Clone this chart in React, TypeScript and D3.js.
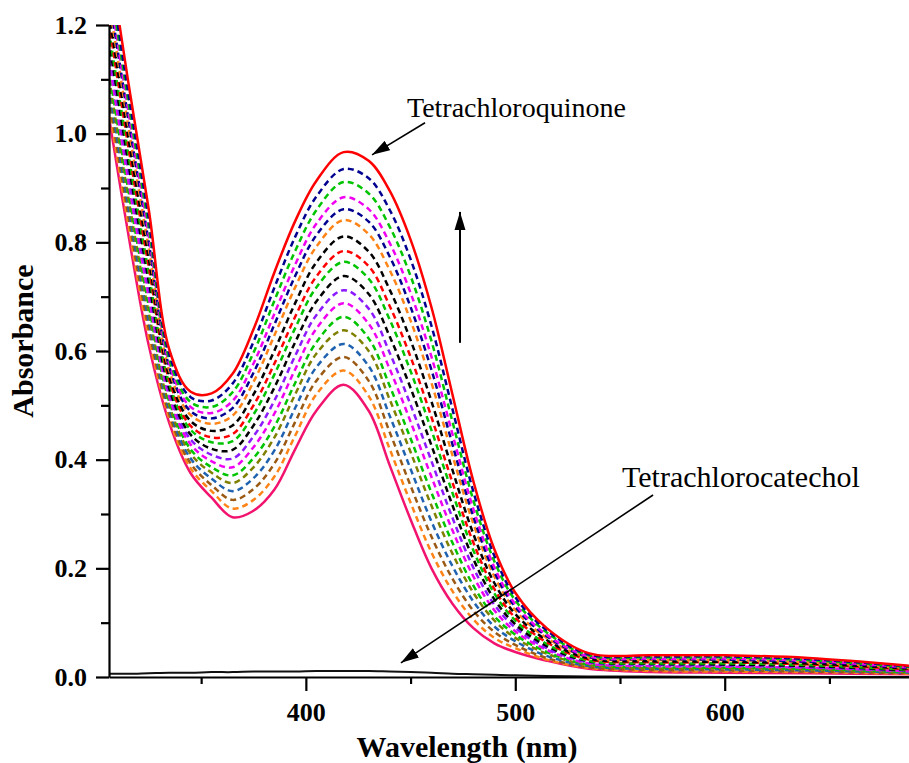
import React, { useEffect, useRef } from "react";
import * as d3 from "d3";

// wavelength grid (nm) shared by every spectrum
const wavelengths = [306, 315, 325, 335, 345, 355, 365, 375, 385, 395, 405, 418, 430, 440, 450, 460, 470, 480, 490, 500, 515, 535, 565, 600, 640, 690];

// first scan (pink, solid) and last scan (red, solid)
const firstScan = [1.03, 0.82, 0.61, 0.465, 0.375, 0.33, 0.294, 0.306, 0.345, 0.42, 0.49, 0.538, 0.49, 0.39, 0.29, 0.2, 0.135, 0.09, 0.062, 0.046, 0.03, 0.015, 0.009, 0.008, 0.007, 0.005];
const lastScan = [1.33, 1.1, 0.86, 0.6, 0.525, 0.522, 0.558, 0.64, 0.745, 0.84, 0.913, 0.966, 0.95, 0.895, 0.805, 0.68, 0.52, 0.36, 0.235, 0.155, 0.09, 0.044, 0.04, 0.04, 0.035, 0.02];

// tetrachlorocatechol alone (black, near zero)
const catecholScan = [0.006, 0.006, 0.007, 0.008, 0.008, 0.009, 0.009, 0.01, 0.01, 0.01, 0.011, 0.011, 0.011, 0.01, 0.009, 0.008, 0.006, 0.005, 0.004, 0.003, 0.002, 0.001, 0.001, 0, 0, 0];

// dashed intermediate scans, bottom to top
const dashedScans = [
  [1.048, 0.837, 0.625, 0.473, 0.384, 0.342, 0.31, 0.326, 0.369, 0.445, 0.52, 0.564, 0.517, 0.42, 0.321, 0.229, 0.158, 0.106, 0.072, 0.053, 0.032, 0.017, 0.011, 0.01, 0.009, 0.006],
  [1.066, 0.854, 0.64, 0.481, 0.393, 0.353, 0.326, 0.346, 0.393, 0.47, 0.545, 0.589, 0.545, 0.451, 0.352, 0.258, 0.181, 0.122, 0.083, 0.059, 0.035, 0.018, 0.013, 0.012, 0.01, 0.007],
  [1.084, 0.87, 0.655, 0.489, 0.402, 0.365, 0.342, 0.366, 0.417, 0.496, 0.57, 0.613, 0.572, 0.481, 0.383, 0.286, 0.204, 0.139, 0.093, 0.066, 0.039, 0.02, 0.015, 0.014, 0.012, 0.008],
  [1.102, 0.887, 0.67, 0.497, 0.411, 0.376, 0.357, 0.386, 0.441, 0.521, 0.595, 0.638, 0.6, 0.511, 0.414, 0.315, 0.227, 0.155, 0.104, 0.072, 0.043, 0.022, 0.016, 0.016, 0.014, 0.009],
  [1.117, 0.901, 0.683, 0.504, 0.419, 0.386, 0.371, 0.403, 0.461, 0.542, 0.616, 0.663, 0.623, 0.536, 0.439, 0.339, 0.247, 0.168, 0.112, 0.078, 0.046, 0.023, 0.018, 0.017, 0.015, 0.009],
  [1.135, 0.918, 0.698, 0.512, 0.428, 0.397, 0.386, 0.423, 0.485, 0.567, 0.641, 0.688, 0.65, 0.567, 0.47, 0.368, 0.27, 0.185, 0.123, 0.084, 0.05, 0.025, 0.02, 0.019, 0.017, 0.01],
  [1.153, 0.935, 0.713, 0.52, 0.437, 0.409, 0.402, 0.443, 0.509, 0.592, 0.666, 0.712, 0.678, 0.597, 0.501, 0.397, 0.293, 0.201, 0.133, 0.091, 0.053, 0.027, 0.022, 0.021, 0.018, 0.011],
  [1.171, 0.952, 0.728, 0.528, 0.446, 0.42, 0.418, 0.463, 0.533, 0.617, 0.691, 0.738, 0.705, 0.627, 0.532, 0.426, 0.316, 0.217, 0.143, 0.097, 0.057, 0.029, 0.024, 0.023, 0.02, 0.012],
  [1.189, 0.968, 0.743, 0.537, 0.455, 0.432, 0.434, 0.483, 0.557, 0.643, 0.717, 0.764, 0.733, 0.658, 0.563, 0.454, 0.339, 0.233, 0.154, 0.104, 0.061, 0.03, 0.025, 0.025, 0.022, 0.013],
  [1.204, 0.982, 0.755, 0.543, 0.462, 0.441, 0.447, 0.5, 0.577, 0.664, 0.737, 0.784, 0.756, 0.683, 0.589, 0.478, 0.358, 0.247, 0.162, 0.109, 0.064, 0.032, 0.027, 0.027, 0.023, 0.014],
  [1.222, 0.999, 0.77, 0.551, 0.471, 0.453, 0.463, 0.52, 0.601, 0.689, 0.763, 0.811, 0.783, 0.713, 0.62, 0.507, 0.381, 0.263, 0.173, 0.116, 0.068, 0.034, 0.029, 0.028, 0.025, 0.015],
  [1.243, 1.019, 0.788, 0.561, 0.482, 0.466, 0.481, 0.543, 0.629, 0.718, 0.792, 0.841, 0.815, 0.749, 0.656, 0.541, 0.408, 0.282, 0.185, 0.123, 0.072, 0.036, 0.031, 0.031, 0.027, 0.016],
  [1.258, 1.033, 0.8, 0.568, 0.489, 0.476, 0.495, 0.56, 0.649, 0.739, 0.813, 0.861, 0.838, 0.774, 0.681, 0.565, 0.428, 0.295, 0.193, 0.129, 0.075, 0.037, 0.033, 0.032, 0.028, 0.016],
  [1.273, 1.047, 0.813, 0.574, 0.497, 0.486, 0.508, 0.577, 0.669, 0.76, 0.834, 0.883, 0.861, 0.799, 0.707, 0.589, 0.447, 0.309, 0.202, 0.134, 0.078, 0.038, 0.034, 0.034, 0.03, 0.017],
  [1.291, 1.064, 0.828, 0.582, 0.506, 0.497, 0.524, 0.597, 0.693, 0.785, 0.859, 0.911, 0.89, 0.829, 0.738, 0.618, 0.47, 0.325, 0.213, 0.141, 0.082, 0.04, 0.036, 0.036, 0.031, 0.018],
  [1.309, 1.08, 0.843, 0.591, 0.515, 0.509, 0.54, 0.617, 0.717, 0.811, 0.884, 0.935, 0.918, 0.86, 0.769, 0.646, 0.493, 0.341, 0.223, 0.147, 0.086, 0.042, 0.038, 0.038, 0.033, 0.019],
];
const dashedColors = ["#ff8418", "#9b5a14", "#1f63b0", "#7f7f00", "#00c400", "#f000f0", "#8c1aff", "#000000", "#00c400", "#ff0000", "#000000", "#ff8418", "#000090", "#f000f0", "#00c400", "#000090"];

const yTicks = [0, 0.2, 0.4, 0.6, 0.8, 1.0, 1.2];
const yMinorTicks = [0.1, 0.3, 0.5, 0.7, 0.9, 1.1];
const xTicks = [400, 500, 600];
const xMinorTicks = [350, 450, 550, 650];

const width = 909;
const height = 763;
const margin = { top: 25, right: 0, bottom: 86, left: 109 };
const font = "'Liberation Serif', 'Times New Roman', serif";

const App = () => {
  const svgRef = useRef(null);

  useEffect(() => {
    const svg = d3.select(svgRef.current);
    svg.selectAll("*").remove();

    const x = d3.scaleLinear().domain([306, 688]).range([margin.left, width - margin.right]);
    const y = d3.scaleLinear().domain([0, 1.2]).range([height - margin.bottom, margin.top]);

    // arrow head marker
    const defs = svg.append("defs");
    defs.append("marker")
      .attr("id", "head")
      .attr("markerUnits", "userSpaceOnUse")
      .attr("markerWidth", 20)
      .attr("markerHeight", 12)
      .attr("refX", 18)
      .attr("refY", 6)
      .attr("orient", "auto")
      .append("path")
      .attr("d", "M0,0.5 L18,6 L0,11.5 Z")
      .attr("fill", "#000");

    defs.append("clipPath")
      .attr("id", "plot-clip")
      .append("rect")
      .attr("x", margin.left)
      .attr("y", margin.top)
      .attr("width", width - margin.left - margin.right)
      .attr("height", height - margin.top - margin.bottom);

    const line = d3.line()
      .x((d, i) => x(wavelengths[i]))
      .y(d => y(d))
      .curve(d3.curveCatmullRom.alpha(0.5));

    const curves = svg.append("g").attr("clip-path", "url(#plot-clip)");

    curves.append("path")
      .attr("d", line(catecholScan))
      .attr("fill", "none")
      .attr("stroke", "#111")
      .attr("stroke-width", 2);

    curves.append("path")
      .attr("d", line(firstScan))
      .attr("fill", "none")
      .attr("stroke", "#f2136f")
      .attr("stroke-width", 2.5);

    dashedScans.forEach((scan, i) => {
      curves.append("path")
        .attr("d", line(scan))
        .attr("fill", "none")
        .attr("stroke", dashedColors[i])
        .attr("stroke-width", 2.5)
        .attr("stroke-dasharray", "6,4");
    });

    curves.append("path")
      .attr("d", line(lastScan))
      .attr("fill", "none")
      .attr("stroke", "#ff0000")
      .attr("stroke-width", 2.5);

    // Y axis
    const yAxis = svg.append("g")
      .attr("transform", `translate(${margin.left},0)`)
      .call(d3.axisLeft(y).tickValues(yTicks).tickSize(13).tickSizeOuter(0).tickPadding(9).tickFormat(d3.format(".1f")));
    svg.append("g")
      .attr("transform", `translate(${margin.left},0)`)
      .call(d3.axisLeft(y).tickValues(yMinorTicks).tickSize(8).tickSizeOuter(0).tickFormat(() => ""))
      .select(".domain").remove();

    // X axis
    const xAxis = svg.append("g")
      .attr("transform", `translate(0,${height - margin.bottom})`)
      .call(d3.axisBottom(x).tickValues(xTicks).tickSize(14).tickSizeOuter(0).tickPadding(12));
    svg.append("g")
      .attr("transform", `translate(0,${height - margin.bottom})`)
      .call(d3.axisBottom(x).tickValues(xMinorTicks).tickSize(7).tickSizeOuter(0).tickFormat(() => ""))
      .select(".domain").remove();

    svg.selectAll(".domain, .tick line").attr("stroke", "#000").attr("stroke-width", 2.2);
    [yAxis, xAxis].forEach(a => a.selectAll("text")
      .attr("fill", "#000")
      .style("font-family", font)
      .style("font-size", "26px")
      .style("font-weight", "bold"));

    // axis titles
    svg.append("text")
      .attr("transform", `translate(33,${341}) rotate(-90)`)
      .attr("text-anchor", "middle")
      .style("font-family", font)
      .style("font-size", "30px")
      .style("font-weight", "bold")
      .text("Absorbance");

    svg.append("text")
      .attr("x", 467)
      .attr("y", 757)
      .attr("text-anchor", "middle")
      .style("font-family", font)
      .style("font-size", "30px")
      .style("font-weight", "bold")
      .text("Wavelength (nm)");

    // annotations
    svg.append("text")
      .attr("x", x(448.3))
      .attr("y", y(1.031))
      .style("font-family", font)
      .style("font-size", "28px")
      .text("Tetrachloroquinone");
    svg.append("line")
      .attr("x1", x(456.9)).attr("y1", y(1.02))
      .attr("x2", x(431.6)).attr("y2", y(0.961))
      .attr("stroke", "#000").attr("stroke-width", 1.6)
      .attr("marker-end", "url(#head)");

    svg.append("line")
      .attr("x1", x(473.6)).attr("y1", y(0.615))
      .attr("x2", x(473.6)).attr("y2", y(0.856))
      .attr("stroke", "#000").attr("stroke-width", 2)
      .attr("marker-end", "url(#head)");

    svg.append("text")
      .attr("x", x(551))
      .attr("y", y(0.35))
      .style("font-family", font)
      .style("font-size", "30px")
      .text("Tetrachlorocatechol");
    svg.append("line")
      .attr("x1", x(565.8)).attr("y1", y(0.335))
      .attr("x2", x(445.4)).attr("y2", y(0.026))
      .attr("stroke", "#000").attr("stroke-width", 1.6)
      .attr("marker-end", "url(#head)");
  }, []);

  return (
    <svg
      ref={svgRef}
      width={width}
      height={height}
      style={{ position: "absolute", left: 0, top: 0, background: "#fff" }}
    />
  );
};

export default App;
